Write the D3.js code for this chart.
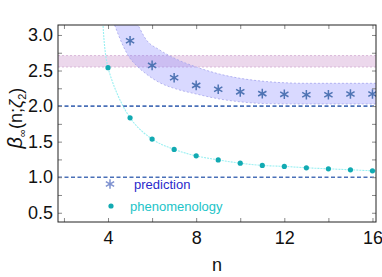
<!DOCTYPE html>
<html>
<head>
<meta charset="utf-8">
<script src="https://cdn.jsdelivr.net/npm/d3@7"></script>
<style>
  body { margin: 0; background: #fff; }
  text { font-family: "Liberation Sans", Arial, sans-serif; }
</style>
</head>
<body>
<div id="chart"></div>
<script>
// data
const nValues = [5, 6, 7, 8, 9, 10, 11, 12, 13, 14, 15, 16];
const prediction = [2.918, 2.572, 2.398, 2.291, 2.237, 2.2, 2.175, 2.165, 2.16, 2.16, 2.17, 2.17];

const phenoN = [4, 5, 6, 7, 8, 9, 10, 11, 12, 13, 14, 15, 16];
const phenomenology = [2.54, 1.835, 1.536, 1.391, 1.30, 1.243, 1.197, 1.165, 1.152, 1.132, 1.118, 1.104, 1.09];

// fitted curve through the phenomenology points (extends above the frame)
const curveN = [3.76, 4, 5, 6, 7, 8, 9, 10, 11, 12, 13, 14, 15, 16, 16.2];
const curveV = [3.25, 2.54, 1.835, 1.536, 1.391, 1.30, 1.243, 1.197, 1.165, 1.152, 1.132, 1.118, 1.104, 1.09, 1.087];

// uncertainty band of the prediction
const bandN = [4.3, 4.68, 4.98, 5.29, 5.74, 6.34, 7.1, 8.0, 9.06, 10, 11.18, 13, 16.2];
const bandLo = [3.14, 2.85, 2.68, 2.57, 2.45, 2.33, 2.24, 2.17, 2.1, 2.06, 2.035, 2.03, 2.03];
const bandHi = [3.7, 3.5, 3.35, 3.18, 2.93, 2.79, 2.66, 2.55, 2.45, 2.39, 2.345, 2.32, 2.32];

// horizontal reference band and lines
const pinkBand = [2.55, 2.71];
const refLines = [2.0, 1.0];

const xTicks = [2, 4, 6, 8, 10, 12, 14, 16];
const xLabels = [4, 8, 12, 16];
const yTicks = [0.5, 0.75, 1.0, 1.25, 1.5, 1.75, 2.0, 2.25, 2.5, 2.75, 3.0];
const yLabels = [0.5, 1.0, 1.5, 2.0, 2.5, 3.0];

const width = 382, height = 277;
const margin = { left: 58, right: 6, top: 25, bottom: 55 };

const svg = d3.select("#chart").append("svg")
  .attr("width", width).attr("height", height);

const x = d3.scaleLinear().domain([1.73, 16.16]).range([margin.left, width - margin.right]);
const y = d3.scaleLinear().domain([0.37, 3.14]).range([height - margin.bottom, margin.top]);

svg.append("clipPath").attr("id", "clip")
  .append("rect")
  .attr("x", margin.left).attr("y", margin.top)
  .attr("width", x.range()[1] - x.range()[0])
  .attr("height", y.range()[0] - y.range()[1]);

const plot = svg.append("g").attr("clip-path", "url(#clip)");

// pink band
plot.append("rect")
  .attr("x", x.range()[0]).attr("width", x.range()[1] - x.range()[0])
  .attr("y", y(pinkBand[1])).attr("height", y(pinkBand[0]) - y(pinkBand[1]))
  .attr("fill", "#ecd8ec");
pinkBand.forEach(v => {
  plot.append("line")
    .attr("x1", x.range()[0]).attr("x2", x.range()[1])
    .attr("y1", y(v)).attr("y2", y(v))
    .attr("stroke", "#d9b8d9").attr("stroke-width", 1)
    .attr("stroke-dasharray", "2,2");
});

// prediction band
const bandData = bandN.map((n, i) => ({ n: n, lo: bandLo[i], hi: bandHi[i] }));
const area = d3.area()
  .x(d => x(d.n)).y0(d => y(d.lo)).y1(d => y(d.hi))
  .curve(d3.curveMonotoneX);
plot.append("path").datum(bandData)
  .attr("d", area)
  .attr("fill", "#8080ff").attr("fill-opacity", 0.3);
["lo", "hi"].forEach(k => {
  plot.append("path").datum(bandData)
    .attr("d", d3.line().x(d => x(d.n)).y(d => y(d[k])).curve(d3.curveMonotoneX))
    .attr("fill", "none").attr("stroke", "#a4a4ec").attr("stroke-width", 0.8)
    .attr("stroke-dasharray", "2,2");
});

// reference lines
refLines.forEach(v => {
  plot.append("line")
    .attr("x1", x.range()[0]).attr("x2", x.range()[1])
    .attr("y1", y(v)).attr("y2", y(v))
    .attr("stroke", "#4a70b8").attr("stroke-width", 1.6)
    .attr("stroke-dasharray", "4,2.5");
});

// phenomenology curve
const curveData = curveN.map((n, i) => [n, curveV[i]]);
plot.append("path").datum(curveData)
  .attr("d", d3.line().x(d => x(d[0])).y(d => y(d[1])).curve(d3.curveCatmullRom))
  .attr("fill", "none").attr("stroke", "#9af0f2").attr("stroke-width", 1.1)
  .attr("stroke-dasharray", "2,1");

// phenomenology points
plot.selectAll("circle.pheno")
  .data(phenoN.map((n, i) => [n, phenomenology[i]]))
  .enter().append("circle")
  .attr("class", "pheno")
  .attr("cx", d => x(d[0])).attr("cy", d => y(d[1]))
  .attr("r", 2.6).attr("fill", "#12aab2");

// prediction stars
const star = d3.symbol().type(d3.symbolAsterisk).size(64);
plot.selectAll("path.star")
  .data(nValues.map((n, i) => [n, prediction[i]]))
  .enter().append("path")
  .attr("class", "star")
  .attr("transform", d => `translate(${x(d[0])},${y(d[1])})`)
  .attr("d", star)
  .attr("fill", "none").attr("stroke", "#4f74b4").attr("stroke-width", 1.5);

// axes with inward ticks
const tickStyle = g => {
  g.select(".domain").remove();
  g.selectAll(".tick line").attr("stroke", "#888");
  g.selectAll(".tick text").attr("font-size", 18).attr("fill", "#111");
};
svg.append("g")
  .attr("transform", `translate(0,${y.range()[0]})`)
  .call(d3.axisBottom(x).tickValues(xTicks).tickSize(-4).tickPadding(9)
    .tickFormat(d => xLabels.includes(d) ? d : ""))
  .call(tickStyle);
svg.append("g")
  .attr("transform", `translate(0,${y.range()[1]})`)
  .call(d3.axisTop(x).tickValues(xTicks).tickSize(-4).tickFormat(""))
  .call(tickStyle);
svg.append("g")
  .attr("transform", `translate(${x.range()[0]},0)`)
  .call(d3.axisLeft(y).tickValues(yTicks).tickSize(-4).tickPadding(5)
    .tickFormat(d => yLabels.includes(d) ? d3.format(".1f")(d) : ""))
  .call(tickStyle);
svg.append("g")
  .attr("transform", `translate(${x.range()[1]},0)`)
  .call(d3.axisRight(y).tickValues(yTicks).tickSize(-4).tickFormat(""))
  .call(tickStyle);

// frame
svg.append("rect")
  .attr("x", x.range()[0]).attr("y", y.range()[1])
  .attr("width", x.range()[1] - x.range()[0])
  .attr("height", y.range()[0] - y.range()[1])
  .attr("fill", "none").attr("stroke", "#222").attr("stroke-width", 1);

// axis titles
svg.append("text")
  .attr("x", (x.range()[0] + x.range()[1]) / 2).attr("y", 271)
  .attr("text-anchor", "middle").attr("font-size", 18).attr("fill", "#111")
  .text("n");

const yTitle = svg.append("text")
  .attr("transform", "translate(22,118) rotate(-90)")
  .attr("text-anchor", "middle").attr("font-size", 18).attr("fill", "#111");
yTitle.append("tspan").attr("font-style", "italic").attr("font-size", 20).text("β");
yTitle.append("tspan").attr("font-size", 11).attr("dy", 4).text("∞");
yTitle.append("tspan").attr("dy", -4).text("(n;");
yTitle.append("tspan").attr("font-style", "italic").text("ζ");
yTitle.append("tspan").attr("font-size", 11).attr("dy", 4).text("2");
yTitle.append("tspan").attr("dy", -4).text(")");

// legend
svg.append("path")
  .attr("transform", `translate(110,184)`)
  .attr("d", star)
  .attr("fill", "none").attr("stroke", "#7f92d0").attr("stroke-width", 1.5);
svg.append("text")
  .attr("x", 134).attr("y", 189).attr("font-size", 13).attr("fill", "#2a2acc")
  .text("prediction");
svg.append("circle")
  .attr("cx", 111).attr("cy", 206).attr("r", 2.6).attr("fill", "#12aab2");
svg.append("text")
  .attr("x", 130).attr("y", 211).attr("font-size", 13).attr("fill", "#22c4c8")
  .text("phenomenology");
</script>
</body>
</html>
